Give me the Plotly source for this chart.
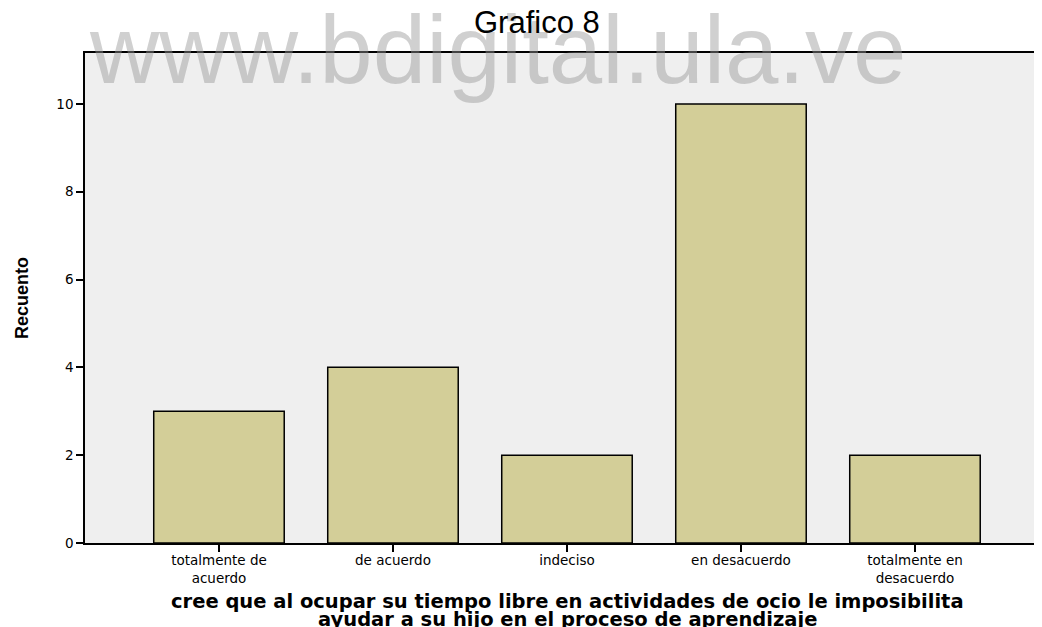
import plotly.graph_objects as go

categories = ["totalmente de<br>acuerdo", "de acuerdo", "indeciso", "en desacuerdo", "totalmente en<br>desacuerdo"]
counts = [3, 4, 2, 10, 2]
y_ticks = [0, 2, 4, 6, 8, 10]

OFF = 8  # page body margin
W, H = 1042 - OFF, 627 - OFF
L, R, T, B = 85 - OFF, 0, 53 - OFF, 627 - 543
pw = W - L - R
ph = H - T - B

def px_x(p):
    return (p - OFF - L) / pw

def px_y(p):
    return (H - B - (p - OFF)) / ph

fig = go.Figure()
fig.add_trace(go.Bar(
    x=list(range(len(categories))), y=counts,
    marker=dict(color="#d3ce98", line=dict(color="black", width=1.5)),
    width=0.75,
))

tick_font = dict(size=13.5, family="DejaVu Sans, Verdana, sans-serif", color="black")

fig.update_layout(
    width=W, height=H,
    margin=dict(l=L, r=R, t=T, b=B, pad=0),
    paper_bgcolor="white",
    plot_bgcolor="#efefef",
    showlegend=False,
    font=dict(family="Liberation Sans, Arial, sans-serif", color="black"),
    xaxis=dict(
        range=[-0.77, 4.73],
        tickmode="array", tickvals=list(range(len(categories))), ticktext=categories,
        ticks="outside", ticklen=7, tickwidth=2, tickcolor="black",
        ticklabelstandoff=-3,
        showline=True, linecolor="black", linewidth=1.5, mirror=True,
        showgrid=False, zeroline=False,
        tickfont=tick_font,
    ),
    yaxis=dict(
        range=[0, 11.16],
        tickmode="array", tickvals=y_ticks, ticktext=[str(v) for v in y_ticks],
        ticks="outside", ticklen=7, tickwidth=1.5, tickcolor="black",
        showline=True, linecolor="black", linewidth=1.5,
        showgrid=False, zeroline=False,
        tickfont=tick_font,
    ),
    annotations=[
        dict(text="www.bdigital.ula.ve", xref="paper", yref="paper",
             x=px_x(497), y=px_y(50), xanchor="center", yanchor="middle",
             showarrow=False,
             font=dict(size=96, color="rgba(150,150,150,0.45)",
                       family="Liberation Sans, Arial, sans-serif")),
        dict(text="Grafico 8", xref="paper", yref="paper",
             x=px_x(537), y=px_y(23), xanchor="center", yanchor="middle",
             showarrow=False,
             font=dict(size=31, color="black",
                       family="Liberation Sans, Arial, sans-serif")),
        dict(text="cree que al ocupar su tiempo libre en actividades de ocio le imposibilita",
             xref="paper", yref="paper",
             x=px_x(567), y=px_y(601), xanchor="center", yanchor="middle",
             showarrow=False,
             font=dict(size=19.5, color="black", weight="bold",
                       family="DejaVu Sans, Verdana, sans-serif")),
        dict(text="ayudar a su hijo en el proceso de aprendizaje",
             xref="paper", yref="paper",
             x=px_x(567), y=px_y(619), xanchor="center", yanchor="middle",
             showarrow=False,
             font=dict(size=19.5, color="black", weight="bold",
                       family="DejaVu Sans, Verdana, sans-serif")),
        dict(text="Recuento", xref="paper", yref="paper",
             x=px_x(22), y=px_y(298), xanchor="center", yanchor="middle",
             textangle=-90, showarrow=False,
             font=dict(size=18, color="black", weight="bold",
                       family="Liberation Sans Narrow, Arial Narrow, sans-serif")),
    ],
)

fig.write_html("out.html")
